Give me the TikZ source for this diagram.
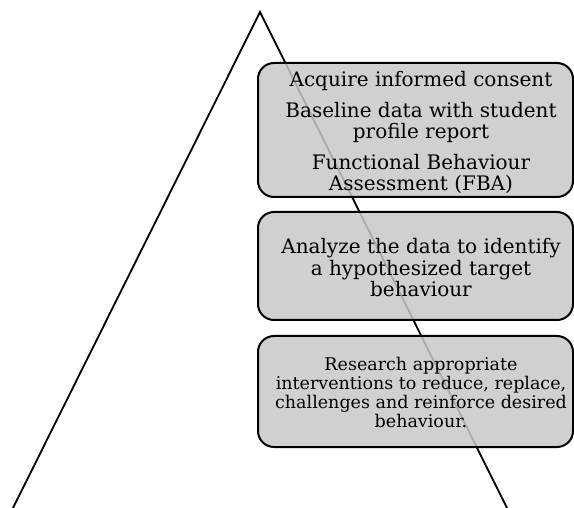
\documentclass[tikz,border=0pt]{standalone}
\usepackage{fontspec}
\setmainfont{DejaVu Serif}
\definecolor{boxgray}{RGB}{200,200,200}
\tikzset{
  stagebox/.style={draw=black, line width=2pt, rounded corners=16pt, fill=boxgray, fill opacity=0.85, inner sep=0pt, minimum width=315pt},
  stagetext/.style={align=center, inner sep=0pt},
  tri/.style={draw=black, line width=1.8pt}
}
\begin{document}
\begin{tikzpicture}[x=1pt,y=-1pt]
\useasboundingbox (0,0) rectangle (574,508);
\coordinate (L) at (13,508);
\coordinate (A) at (260,12);
\coordinate (R) at (507,508);
\draw[tri] (L) -- (A) -- (R);
\node[stagebox, minimum height=134pt] (b1) at (415.5,130) {};
\node[stagebox, minimum height=108pt] (b2) at (415.5,266) {};
\node[stagebox, minimum height=111pt] (b3) at (415.5,391.5) {};
\node[stagetext, font=\fontsize{20}{21}\selectfont] (t1) at (421,132)
  {Acquire informed consent\\[10pt]Baseline data with student\\profile report\\[10pt]Functional Behaviour\\Assessment (FBA)};
\node[stagetext, font=\fontsize{20}{21.5}\selectfont] (t2) at (421,268)
  {Analyze the data to identify\\a hypothesized target\\behaviour};
\node[stagetext, font=\fontsize{17.5}{19}\selectfont] (t3) at (421,392)
  {Research appropriate\\interventions to reduce, replace,\\challenges and reinforce desired\\behaviour.};
\end{tikzpicture}
\end{document}
